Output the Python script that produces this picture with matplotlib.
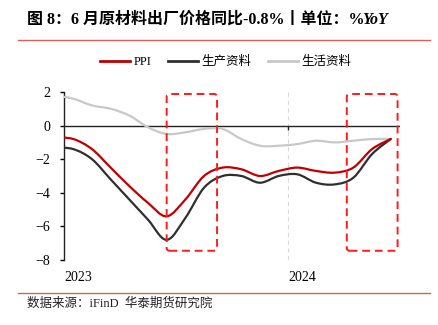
import numpy as np
import matplotlib
matplotlib.use("Agg")
import matplotlib.pyplot as plt
from matplotlib.path import Path
from matplotlib.patches import PathPatch, FancyBboxPatch
from matplotlib.lines import Line2D

plt.rcParams['font.family'] = ['Liberation Serif', 'Noto Sans CJK SC', 'DejaVu Sans']

# monthly data, Dec 2022 .. Jun 2024
months = ['2022-12', '2023-01', '2023-02', '2023-03', '2023-04', '2023-05', '2023-06',
          '2023-07', '2023-08', '2023-09', '2023-10', '2023-11', '2023-12',
          '2024-01', '2024-02', '2024-03', '2024-04', '2024-05', '2024-06']
ppi = [-0.7, -0.8, -1.4, -2.5, -3.6, -4.6, -5.4, -4.4, -3.0, -2.5, -2.6, -3.0, -2.7,
       -2.5, -2.7, -2.8, -2.5, -1.4, -0.8]
prod = [-1.3, -1.4, -2.0, -3.2, -4.4, -5.6, -6.8, -5.5, -3.7, -3.0, -3.0, -3.4, -3.0,
        -2.9, -3.4, -3.5, -3.1, -1.7, -0.8]
cons = [1.8, 1.6, 1.2, 1.0, 0.6, -0.1, -0.5, -0.4, -0.2, -0.2, -0.8, -1.2, -1.2,
        -1.1, -0.9, -1.0, -0.9, -0.8, -0.8]

series_names = ['PPI', '生产资料', '生活资料']
series_colors = ['#c00000', '#2f2f2f', '#c8c8c8']
year_labels = ['2023', '2024']

# highlighted periods (in months from Jan 2023) and y span
boxes = [(5.5, 8.2), (15.15, 17.87)]
box_y = (-7.45, 1.88)


def smooth_path(x, y):
    # excel-style smoothed line as cubic bezier segments
    pts = np.column_stack([x, y])
    verts = [pts[0]]
    codes = [Path.MOVETO]
    n = len(pts)
    for i in range(n - 1):
        p0 = pts[max(i - 1, 0)]
        p1 = pts[i]
        p2 = pts[i + 1]
        p3 = pts[min(i + 2, n - 1)]
        c1 = p1 + (p2 - p0) / 6.0
        c2 = p2 - (p3 - p1) / 6.0
        verts += [c1, c2, p2]
        codes += [Path.CURVE4] * 3
    return Path(verts, codes)


fig = plt.figure(figsize=(4.39, 3.25), dpi=100)
ax = fig.add_axes([64 / 439, 1 - 260 / 325, 336 / 439, 168 / 325])

# mid-month positions, Jan 2023 starts at 0
xpos = np.arange(len(months)) - 0.5

ax.axvline(12, color='#d9d9d9', lw=0.8, ls=(0, (4, 3)), zorder=1)
ax.axhline(0, color='#222222', lw=1.0, zorder=2)
ax.plot([12], [0], marker=3, color='#222222', markersize=3, zorder=2)

for vals, c in zip([cons, prod, ppi], [series_colors[2], series_colors[1], series_colors[0]]):
    ax.add_patch(PathPatch(smooth_path(xpos, vals), facecolor='none', edgecolor=c,
                           lw=1.6, capstyle='round', zorder=3))

for x0, x1 in boxes:
    ax.add_patch(FancyBboxPatch((x0, box_y[0]), x1 - x0, box_y[1] - box_y[0],
                                boxstyle='round,pad=0,rounding_size=0.15',
                                facecolor='none', edgecolor='#ff1a1a', lw=1.4,
                                ls=(0, (4, 2.5)), zorder=4, clip_on=False))

ax.set_xlim(0, 18)
ax.set_ylim(-8, 2)
ax.set_yticks([2, 0, -2, -4, -6, -8])
ax.set_xticks([0, 12])
ax.set_xticklabels(year_labels, ha='left')
ax.tick_params(axis='x', length=0, pad=8, labelsize=10)
ax.tick_params(axis='y', length=3, width=1, pad=7, labelsize=10, direction='out')
for sp in ['top', 'right', 'bottom']:
    ax.spines[sp].set_visible(False)
ax.spines['left'].set_linewidth(1.0)
ax.spines['left'].set_color('#222222')

handles = [Line2D([], [], color=c, lw=2) for c in series_colors]
fig.legend(handles, series_names, loc='center', bbox_to_anchor=(226 / 439, 1 - 62 / 325),
           ncol=3, frameon=False, handlelength=2.4, handletextpad=0.3,
           columnspacing=1.3, prop={'family': ['Liberation Serif', 'Noto Sans CJK SC'], 'size': 9})

title = fig.text(27 / 439, 1 - 20 / 325, '图 8：6 月原材料出厂价格同比-0.8%丨单位：%',
                 fontsize=11.5, fontweight='bold', va='center', ha='left')
ax.annotate('YoY', xy=(1, 0), xycoords=title, xytext=(-1.5, 0), textcoords='offset points',
            fontsize=11.5, fontweight='bold', style='italic', va='bottom', ha='left',
            annotation_clip=False)

fig.add_artist(Line2D([18 / 439, 430 / 439], [1 - 40 / 325] * 2, color='#d9605a', lw=1.0))
fig.add_artist(Line2D([18 / 439, 430 / 439], [1 - 293 / 325] * 2, color='#d9605a', lw=1.0))
fig.text(27 / 439, 1 - 304 / 325, '数据来源：iFinD  华泰期货研究院', fontsize=9,
         va='center', ha='left', color='#222222',
         family=['Liberation Serif', 'Noto Sans CJK SC'])

fig.savefig('out.png', dpi=100)
